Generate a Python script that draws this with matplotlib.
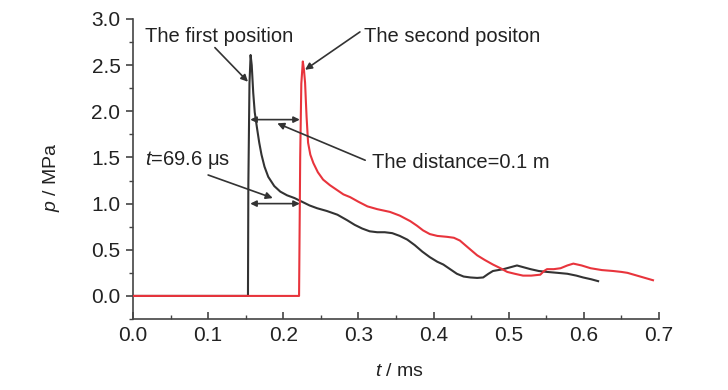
import matplotlib
matplotlib.use("Agg")
import matplotlib.pyplot as plt
from matplotlib.ticker import MultipleLocator

plt.rcParams['font.family'] = ['Liberation Sans', 'DejaVu Sans']
plt.rcParams['mathtext.fontset'] = 'custom'
plt.rcParams['mathtext.it'] = 'Liberation Sans:italic'
plt.rcParams['mathtext.rm'] = 'Liberation Sans'

# First position (black)
t1 = [0.0, 0.153, 0.1535, 0.155, 0.1565, 0.158, 0.160, 0.162, 0.165, 0.168, 0.171,
      0.175, 0.180, 0.188, 0.196, 0.205, 0.215, 0.225, 0.235, 0.245, 0.258, 0.272,
      0.285, 0.295, 0.305, 0.315, 0.325, 0.335, 0.345, 0.355, 0.365, 0.375, 0.385,
      0.395, 0.405, 0.413, 0.422, 0.431, 0.440, 0.449, 0.458, 0.466, 0.473, 0.479,
      0.486, 0.493, 0.502, 0.511, 0.520, 0.529, 0.540, 0.551, 0.565, 0.578, 0.590,
      0.599, 0.610, 0.619]
p1 = [0.0, 0.0, 1.2, 2.3, 2.61, 2.5, 2.2, 1.99, 1.82, 1.66, 1.53,
      1.40, 1.29, 1.19, 1.13, 1.09, 1.06, 1.02, 0.98, 0.95, 0.92, 0.88,
      0.82, 0.77, 0.73, 0.70, 0.69, 0.69, 0.68, 0.65, 0.61, 0.55, 0.48,
      0.42, 0.37, 0.34, 0.29, 0.24, 0.21, 0.20, 0.195, 0.20, 0.24, 0.27,
      0.28, 0.29, 0.31, 0.33, 0.31, 0.29, 0.27, 0.26, 0.25, 0.24, 0.22,
      0.20, 0.18, 0.16]

# Second position (red)
t2 = [0.0, 0.221, 0.2225, 0.224, 0.226, 0.2275, 0.229, 0.230, 0.231, 0.233, 0.236,
      0.240, 0.246, 0.253, 0.262, 0.271, 0.280, 0.289, 0.300, 0.312, 0.325, 0.342,
      0.355, 0.369, 0.378, 0.386, 0.395, 0.405, 0.418, 0.427, 0.435, 0.445, 0.458,
      0.468, 0.479, 0.489, 0.498, 0.508, 0.519, 0.530, 0.542, 0.547, 0.551, 0.560,
      0.569, 0.578, 0.586, 0.597, 0.609, 0.624, 0.639, 0.650, 0.658, 0.675, 0.692]
p2 = [0.0, 0.0, 1.5, 2.3, 2.54, 2.45, 2.31, 2.12, 1.94, 1.66, 1.53,
      1.44, 1.34, 1.26, 1.20, 1.15, 1.10, 1.07, 1.02, 0.97, 0.94, 0.91,
      0.87, 0.81, 0.76, 0.71, 0.67, 0.65, 0.64, 0.63, 0.60, 0.53, 0.44,
      0.39, 0.34, 0.30, 0.26, 0.24, 0.22, 0.22, 0.23, 0.27, 0.29, 0.29,
      0.30, 0.33, 0.35, 0.33, 0.30, 0.28, 0.27, 0.26, 0.25, 0.21, 0.17]

x_ticks = [0.0, 0.1, 0.2, 0.3, 0.4, 0.5, 0.6, 0.7]
y_ticks = [0.0, 0.5, 1.0, 1.5, 2.0, 2.5, 3.0]

fig = plt.figure(figsize=(7.28, 3.9), dpi=100)
ax = fig.add_axes([133/728, 71/390, (659-133)/728, (319-19)/390])

ax.plot(t1, p1, color='#333333', lw=1.5, zorder=3)
ax.plot(t2, p2, color='#e8343c', lw=1.5, zorder=3)

ax.set_xlim(0, 0.7)
ax.set_ylim(-0.25, 3.0)
ax.set_xticks(x_ticks)
ax.set_yticks(y_ticks)
ax.set_xticklabels([f"{v:.1f}" for v in x_ticks])
ax.set_yticklabels([f"{v:.1f}" for v in y_ticks])
ax.xaxis.set_minor_locator(MultipleLocator(0.05))
ax.yaxis.set_minor_locator(MultipleLocator(0.25))

for s in ['top', 'right']:
    ax.spines[s].set_visible(False)
for s in ['left', 'bottom']:
    ax.spines[s].set_color('#444444')
    ax.spines[s].set_linewidth(1.2)

ax.tick_params(axis='x', which='major', direction='in', length=5, width=1.2,
               color='#444444', labelsize=15, pad=5, labelcolor='#222222')
ax.tick_params(axis='x', which='minor', direction='in', length=3, width=1.0, color='#444444')
ax.tick_params(axis='y', which='major', direction='out', length=5, width=1.2,
               color='#444444', labelsize=15, pad=4, labelcolor='#222222')
ax.tick_params(axis='y', which='minor', direction='out', length=3, width=1.0, color='#444444')

ax.set_xlabel(r'$t$ / ms', fontsize=14, color='#222222')
ax.set_ylabel(r'$p$ / MPa', fontsize=14, color='#222222')
ax.xaxis.set_label_coords((400-133)/526, (319-372)/300)
ax.yaxis.set_label_coords((52-133)/526, (319-177)/300)
ax.xaxis.label.set_va('center')
ax.yaxis.label.set_va('center')

arrow_kw = dict(arrowstyle='-|>', color='#333333', lw=1.2, mutation_scale=10,
                shrinkA=0, shrinkB=0)
txt_kw = dict(fontsize=14.5, color='#222222')

# texts
ax.text(0.016, 2.81, 'The first position', ha='left', va='center', **txt_kw)
ax.text(0.307, 2.81, 'The second positon', ha='left', va='center', **txt_kw)
ax.text(0.318, 1.44, 'The distance=0.1 m', ha='left', va='center', **txt_kw)
ax.text(0.016, 1.47, r'$t$=69.6 $\mathregular{\mu}$s', ha='left', va='center', **txt_kw)

# arrows
ax.annotate('', xy=(0.153, 2.32), xytext=(0.109, 2.69), arrowprops=arrow_kw)
ax.annotate('', xy=(0.229, 2.45), xytext=(0.302, 2.86), arrowprops=arrow_kw)
ax.annotate('', xy=(0.192, 1.87), xytext=(0.309, 1.47), arrowprops=arrow_kw)
ax.annotate('', xy=(0.186, 1.06), xytext=(0.100, 1.31), arrowprops=arrow_kw)

dbl_kw = dict(arrowstyle='<|-|>', color='#333333', lw=1.2, mutation_scale=9,
              shrinkA=0, shrinkB=0)
ax.annotate('', xy=(0.156, 1.91), xytext=(0.222, 1.91), arrowprops=dbl_kw)
ax.annotate('', xy=(0.156, 1.00), xytext=(0.222, 1.00), arrowprops=dbl_kw)

fig.savefig('out.png', dpi=100)
